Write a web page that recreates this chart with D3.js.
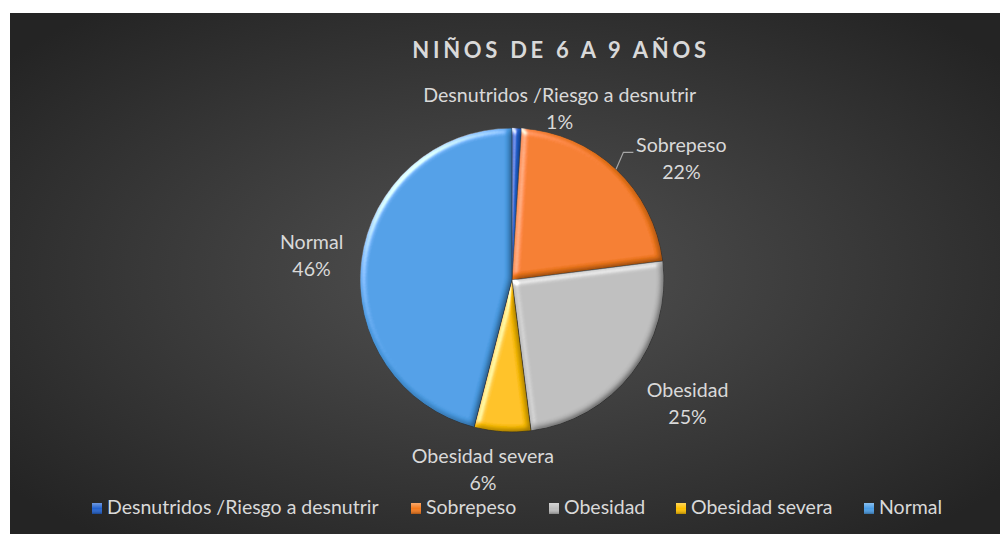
<!DOCTYPE html>
<html>
<head>
<meta charset="utf-8">
<script src="https://cdn.jsdelivr.net/npm/d3@7"></script>
<style>
  html, body { margin: 0; padding: 0; background: #fff; }
  svg { display: block; font-family: Lato, "Open Sans", sans-serif; }
</style>
</head>
<body>
<svg width="1000" height="534"></svg>
<script>
// chart values
let categories = ["Desnutridos /Riesgo a desnutrir", "Sobrepeso", "Obesidad", "Obesidad severa", "Normal"];
let values = [1, 22, 25, 6, 46];
let palette = ["#2262cf", "#f57a1c", "#bdbdbd", "#ffc000", "#4a9de6"];
let title_text = "NIÑOS DE 6 A 9 AÑOS";

// label tweaks (layout only): radius from centre + nudge
let label_layout = {
  "Desnutridos /Riesgo a desnutrir": { r: 180, dx: 42, dy: 9 },
  "Sobrepeso": { r: 208, dx: 27, dy: 31 },
  "Obesidad": { r: 212, dx: 8, dy: -6 },
  "Obesidad severa": { r: 192, dx: -17, dy: -2 },
  "Normal": { r: 200, dx: -2, dy: 1 }
};

let svg = d3.select("svg");
let W = 1000, H = 534;
let cx = 512, cy = 280, radius = 152;
let font_size = "19.6px";

let defs = svg.append("defs");

// background gradient
let bg = defs.append("radialGradient")
  .attr("id", "bg")
  .attr("cx", "50%").attr("cy", "50%").attr("r", "65%");
bg.append("stop").attr("offset", "0%").attr("stop-color", "#525252");
bg.append("stop").attr("offset", "100%").attr("stop-color", "#242424");

// soft bevel on the slices
let bevel = defs.append("filter").attr("id", "bevel")
  .attr("x", "-10%").attr("y", "-10%").attr("width", "120%").attr("height", "120%");
bevel.append("feGaussianBlur").attr("in", "SourceAlpha").attr("stdDeviation", 3).attr("result", "blur");
bevel.append("feSpecularLighting")
  .attr("in", "blur").attr("surfaceScale", 4).attr("specularConstant", 0.9)
  .attr("specularExponent", 18).attr("lighting-color", "#ffffff").attr("result", "spec")
  .append("feDistantLight").attr("azimuth", 225).attr("elevation", 22);
bevel.append("feComposite").attr("in", "spec").attr("in2", "SourceAlpha").attr("operator", "in").attr("result", "specIn");
bevel.append("feDiffuseLighting")
  .attr("in", "blur").attr("surfaceScale", 4).attr("diffuseConstant", 1)
  .attr("lighting-color", "#ffffff").attr("result", "diff")
  .append("feDistantLight").attr("azimuth", 225).attr("elevation", 60);
bevel.append("feComposite").attr("in", "SourceGraphic").attr("in2", "diff")
  .attr("operator", "arithmetic").attr("k1", 1.14).attr("k2", 0).attr("k3", 0).attr("k4", 0).attr("result", "lit");
bevel.append("feComposite").attr("in", "lit").attr("in2", "specIn")
  .attr("operator", "arithmetic").attr("k1", 0).attr("k2", 1).attr("k3", 0.8).attr("k4", 0).attr("result", "out");
bevel.append("feComposite").attr("in", "out").attr("in2", "SourceAlpha").attr("operator", "in");

// small bevel look for the legend keys
let key_shade = defs.append("linearGradient").attr("id", "keyshade")
  .attr("x1", 0).attr("y1", 0).attr("x2", 0).attr("y2", 1);
key_shade.append("stop").attr("offset", "0%").attr("stop-color", "#fff").attr("stop-opacity", 0.35);
key_shade.append("stop").attr("offset", "50%").attr("stop-color", "#fff").attr("stop-opacity", 0);
key_shade.append("stop").attr("offset", "100%").attr("stop-color", "#000").attr("stop-opacity", 0.3);

svg.append("rect")
  .attr("x", 10).attr("y", 13)
  .attr("width", W - 10).attr("height", H - 13)
  .attr("fill", "url(#bg)");

// title
svg.append("text")
  .attr("x", 561).attr("y", 58)
  .attr("text-anchor", "middle")
  .attr("font-size", "22px")
  .attr("font-weight", "bold")
  .attr("letter-spacing", "3.7px")
  .attr("fill", "#d9d9d9")
  .text(title_text);

let color = d3.scaleOrdinal().domain(categories).range(palette);

let data = categories.map((c, i) => ({ name: c, value: values[i] }));
let pie = d3.pie().sort(null).value(d => d.value);
let arcs = pie(data);
let arc = d3.arc().innerRadius(0).outerRadius(radius);

let g = svg.append("g").attr("transform", `translate(${cx},${cy})`);

g.selectAll("path.slice")
  .data(arcs)
  .enter()
  .append("path")
  .attr("class", "slice")
  .attr("d", arc)
  .attr("fill", d => color(d.data.name))
  .attr("stroke", "#3a3a3a")
  .attr("stroke-width", 0.6)
  .attr("filter", "url(#bevel)");

// data labels
let total = d3.sum(values);
let fmt = d => Math.round((d.value / total) * 100) + "%";

function label_pos(d) {
  let lay = label_layout[d.data.name];
  let a = (d.startAngle + d.endAngle) / 2;
  return [Math.sin(a) * lay.r + lay.dx, -Math.cos(a) * lay.r + lay.dy];
}

let labels = g.selectAll("g.lbl")
  .data(arcs)
  .enter()
  .append("g")
  .attr("class", "lbl")
  .attr("transform", d => `translate(${label_pos(d)})`);

labels.append("text")
  .attr("text-anchor", "middle")
  .attr("y", -7)
  .attr("font-size", font_size)
  .attr("fill", "#d9d9d9")
  .text(d => d.data.name);

labels.append("text")
  .attr("text-anchor", "middle")
  .attr("y", 20)
  .attr("font-size", font_size)
  .attr("fill", "#d9d9d9")
  .text(d => fmt(d.data));

// leader line for Sobrepeso
let lead = arcs.filter(d => d.data.name === "Sobrepeso")[0];
{
  let a = (lead.startAngle + lead.endAngle) / 2;
  let p0 = [Math.sin(a) * radius, -Math.cos(a) * radius];
  let lp = label_pos(lead);
  let p2 = [lp[0] - 48, lp[1] - 7];
  let p1 = [p2[0] - 10, p2[1]];
  g.append("path")
    .attr("d", d3.line()([p0, p1, p2]))
    .attr("fill", "none")
    .attr("stroke", "#a6a6a6")
    .attr("stroke-width", 1.2);
}

// legend
let legend_x = [107, 426, 564, 691, 879];
let legend = svg.append("g").selectAll("g")
  .data(categories)
  .enter()
  .append("g")
  .attr("transform", (d, i) => `translate(${legend_x[i]},514)`);

legend.append("rect")
  .attr("x", -15).attr("y", -11)
  .attr("width", 10).attr("height", 11)
  .attr("fill", d => color(d));

legend.append("rect")
  .attr("x", -15).attr("y", -11)
  .attr("width", 10).attr("height", 11)
  .attr("fill", "url(#keyshade)");

legend.append("text")
  .attr("x", 0)
  .attr("y", 0)
  .attr("font-size", "19.5px")
  .attr("fill", "#d9d9d9")
  .text(d => d);
</script>
</body>
</html>
